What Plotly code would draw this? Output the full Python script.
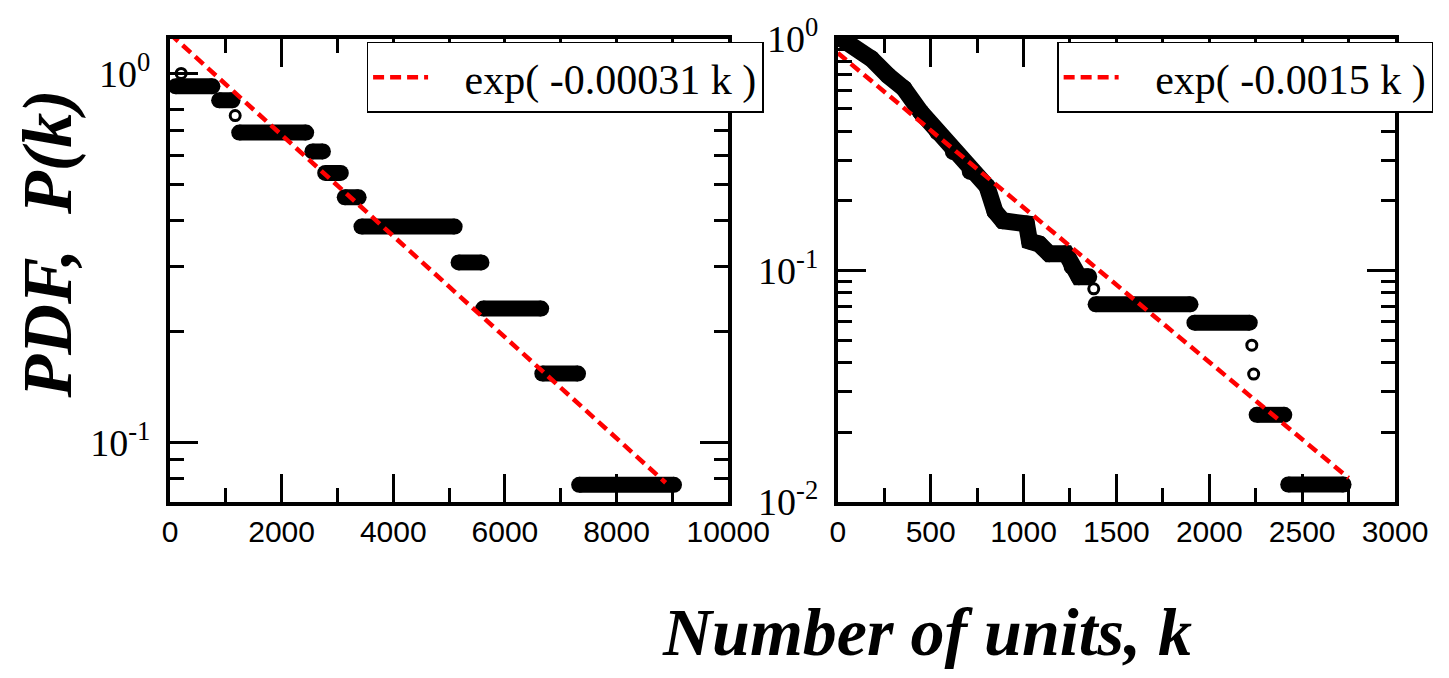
import plotly.graph_objects as go

# ---------------- data ----------------
# Left panel: horizontal steps of the measured P(k) (k start, k end, level)
left_step_start = [100, 880, 1240, 2550, 2780, 3130, 3430, 5170, 5610, 6670, 7330]
left_step_end = [760, 1120, 2440, 2740, 3060, 3380, 5100, 5580, 6650, 7310, 9030]
left_step_p = [0.923, 0.846, 0.692, 0.615, 0.538, 0.462, 0.385, 0.308, 0.231, 0.154, 0.077]
# isolated data points
left_point_k = [200, 1168]
left_point_p = [1.0, 0.769]
# exponential fit line (end points)
left_fit_k = [0, 8880]
left_fit_p = [1.28, 0.078]
left_fit_name = "exp( -0.00031 k )"

# Right panel: dense part of the measured P(k)
right_band_k = [21, 181, 271, 356, 447, 537, 622, 713, 803, 846, 888, 1016, 1032,
                1085, 1138, 1229, 1261, 1298, 1351]
right_band_p = [1.0, 0.821, 0.695, 0.611, 0.483, 0.397, 0.326, 0.268, 0.231, 0.180,
                0.164, 0.159, 0.134, 0.130, 0.118, 0.118, 0.104, 0.094, 0.094]
right_step_start = [1388, 1920, 2255, 2425]
right_step_end = [1899, 2218, 2404, 2723]
right_step_p = [0.0714, 0.0595, 0.0238, 0.0119]
right_point_k = [1378, 2229, 2239]
right_point_p = [0.0833, 0.0476, 0.0357]
right_fit_k = [0, 2750]
right_fit_p = [0.87, 0.0127]
right_fit_name = "exp( -0.0015 k )"

# axis ticks
left_xticks = [0, 2000, 4000, 6000, 8000, 10000]
left_xticktext = ["0", "2000", "4000", "6000", "8000", "10000"]
left_xminor = [1000, 3000, 5000, 7000, 9000]
right_xticks = [0, 500, 1000, 1500, 2000, 2500, 3000]
right_xticktext = ["0", "500", "1000", "1500", "2000", "2500", "3000"]
right_xminor = [250, 750, 1250, 1750, 2250, 2750]
left_yticks = [1, 0.1]
left_yticktext = ["10<sup>0</sup>", "10<sup>-1</sup>"]
left_yminor = [0.08, 0.09, 0.2, 0.3, 0.4, 0.5, 0.6, 0.7, 0.8, 0.9]
right_yticks = [1, 0.1, 0.01]
right_yticktext = ["10<sup>0</sup>", "10<sup>-1</sup>", "10<sup>-2</sup>"]
right_yminor = [0.02, 0.03, 0.04, 0.05, 0.06, 0.07, 0.08, 0.09,
                0.2, 0.3, 0.4, 0.5, 0.6, 0.7, 0.8, 0.9]

x_title = "<b><i>Number of units, k</i></b>"
y_title = "<b><i>PDF,  P(k)</i></b>"

# ---------------- figure ----------------
W, H = 1449, 678
ML, MR, MT, MB = 170, 39, 32, 176
PW = W - ML - MR
PH = H - MT - MB


def px_x(p):
    return (p - ML) / PW


def px_y(p):
    return (H - MB - p) / PH


def steps(starts, ends, levels):
    xs, ys = [], []
    for s, e, p in zip(starts, ends, levels):
        xs += [s, e, None]
        ys += [p, p, None]
    return xs, ys


fig = go.Figure()

BAR_W = 16
for (starts, ends, levels, xa, ya) in [
    (left_step_start, left_step_end, left_step_p, "x", "y"),
    (right_step_start, right_step_end, right_step_p, "x2", "y2"),
]:
    sx, sy = steps(starts, ends, levels)
    fig.add_trace(go.Scatter(
        x=sx, y=sy, mode="lines+markers", xaxis=xa, yaxis=ya,
        line=dict(color="black", width=BAR_W),
        marker=dict(symbol="circle", size=BAR_W, color="black", line=dict(width=0)),
        showlegend=False, hoverinfo="skip"))

fig.add_trace(go.Scatter(
    x=right_band_k, y=right_band_p, mode="lines+markers", xaxis="x2", yaxis="y2",
    line=dict(color="black", width=17),
    marker=dict(symbol="circle", size=17, color="black", line=dict(width=0)),
    showlegend=False, hoverinfo="skip"))

for (kk, pp, xa, ya) in [(left_point_k, left_point_p, "x", "y"),
                         (right_point_k, right_point_p, "x2", "y2")]:
    fig.add_trace(go.Scatter(
        x=kk, y=pp, mode="markers", xaxis=xa, yaxis=ya,
        marker=dict(symbol="circle-open", size=10, color="black", line=dict(width=3)),
        showlegend=False, hoverinfo="skip"))

DASH = "11px,6px"
PAD = "\u00a0\u00a0\u00a0"
fig.add_trace(go.Scatter(
    x=left_fit_k, y=left_fit_p, mode="lines", xaxis="x", yaxis="y",
    name=PAD + left_fit_name, legend="legend",
    line=dict(color="#ff0000", width=4.5, dash=DASH)))
fig.add_trace(go.Scatter(
    x=right_fit_k, y=right_fit_p, mode="lines", xaxis="x2", yaxis="y2",
    name=PAD + right_fit_name, legend="legend2",
    line=dict(color="#ff0000", width=4.5, dash=DASH)))

xtickfont = dict(family="Liberation Sans", size=30, color="black")
ytickfont = dict(family="Liberation Serif", size=38, color="black")
common = dict(showline=True, linewidth=4, linecolor="black", mirror="ticks",
              ticks="inside", ticklen=28, tickwidth=3, tickcolor="black",
              showgrid=False, zeroline=False)
minor_common = dict(ticks="inside", ticklen=14, tickwidth=3, tickcolor="black",
                    showgrid=False)

x1_end = px_x(735)
x2_start = px_x(846)

legend_common = dict(
    bgcolor="white", bordercolor="black", borderwidth=1.5,
    font=dict(family="Liberation Serif", size=42, color="black"),
    xanchor="left", yanchor="top", itemwidth=55,
    xref="paper", yref="paper")

fig.update_layout(
    width=W, height=H,
    margin=dict(l=ML, r=MR, t=MT, b=MB, pad=0),
    paper_bgcolor="white", plot_bgcolor="white",
    xaxis=dict(domain=[0, x1_end], range=[0, 10000], tickmode="array",
               tickvals=left_xticks, ticktext=left_xticktext, tickfont=xtickfont,
               ticklabelstandoff=0,
               minor=dict(tickmode="array", tickvals=left_xminor, **minor_common),
               anchor="y", **common),
    yaxis=dict(type="log", range=[-1.16, 0.0933], tickmode="array",
               tickvals=left_yticks, ticktext=left_yticktext, tickfont=ytickfont,
               ticklabelstandoff=8,
               minor=dict(tickmode="array", tickvals=left_yminor, **minor_common),
               anchor="x", **common),
    xaxis2=dict(domain=[x2_start, 1], range=[0, 3000], tickmode="array",
                tickvals=right_xticks, ticktext=right_xticktext, tickfont=xtickfont,
                ticklabelstandoff=0,
                minor=dict(tickmode="array", tickvals=right_xminor, **minor_common),
                anchor="y2", **common),
    yaxis2=dict(type="log", range=[-2, 0], tickmode="array",
                tickvals=right_yticks, ticktext=right_yticktext, tickfont=ytickfont,
                ticklabelstandoff=8,
                minor=dict(tickmode="array", tickvals=right_yminor, **minor_common),
                anchor="x2", **common),
    legend=dict(x=px_x(369), y=px_y(35), **legend_common),
    legend2=dict(x=px_x(1068), y=px_y(35), **legend_common),
    annotations=[
        dict(text=x_title, xref="paper", yref="paper", x=px_x(936), y=px_y(634),
             xanchor="center", yanchor="middle", showarrow=False,
             font=dict(family="Liberation Serif", size=68, color="black")),
        dict(text=y_title, xref="paper", yref="paper", x=px_x(46), y=px_y(240),
             xanchor="center", yanchor="middle", showarrow=False, textangle=-90,
             font=dict(family="Liberation Serif", size=70, color="black")),
    ],
)

fig.write_html("out.html")
